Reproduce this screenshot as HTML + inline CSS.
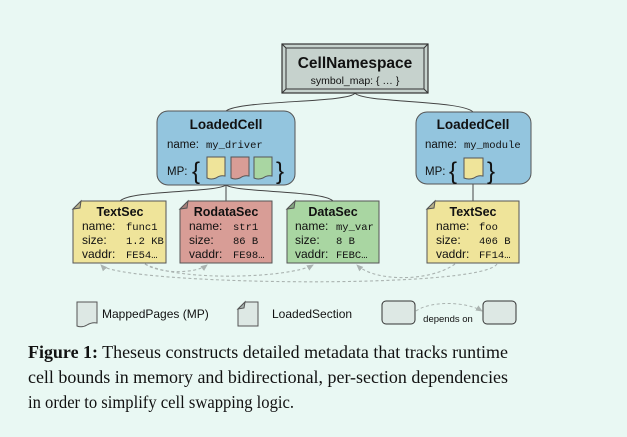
<!DOCTYPE html>
<html><head><meta charset="utf-8"><style>
html,body{margin:0;padding:0;background:#e9f8f3;}
svg{display:block}
.s{font-family:"Liberation Sans",sans-serif;fill:#111}
.m{font-family:"Liberation Mono",monospace;fill:#111}
</style></head><body>
<svg width="627" height="437" viewBox="0 0 627 437" xmlns="http://www.w3.org/2000/svg">
<defs>
<marker id="ah" markerWidth="8" markerHeight="8" refX="6" refY="4" orient="auto" markerUnits="userSpaceOnUse">
<path d="M0,1 L7,4 L0,7 Z" fill="#aab3b0"/></marker>
</defs>
<rect width="627" height="437" fill="#e9f8f3"/>
<g fill="none" stroke="#444" stroke-width="1">
<path d="M355,93 C350,103 240,100 226,111"/>
<path d="M355,93 C362,103 462,100 473,112"/>
<path d="M226,185 C215,193 130,190 120,201"/>
<path d="M226,185 L226,201"/>
<path d="M226,185 C237,193 322,190 333,201"/>
<path d="M473,184 L473,201"/>
</g>
<rect x="282" y="44" width="146" height="49" fill="#c6d2cd" stroke="#333" stroke-width="1.2"/>
<rect x="286" y="48" width="138" height="41" fill="#c6d2cd" stroke="#333" stroke-width="1"/>
<path d="M282,44 L286,48 M428,44 L424,48 M282,93 L286,89 M428,93 L424,89" stroke="#333"/>
<text x="355" y="68" text-anchor="middle" class="s" font-size="15.5" font-weight="bold">CellNamespace</text>
<text x="355" y="84" text-anchor="middle" class="s" font-size="10.5">symbol_map: { … }</text>
<rect x="157" y="111" width="138" height="74" rx="11" fill="#93c5de" stroke="#555"/>
<text x="226" y="129" text-anchor="middle" class="s" font-size="13.5" font-weight="bold">LoadedCell</text>
<text x="167" y="148" class="s" font-size="11.5">name:</text>
<text x="206" y="148" class="m" font-size="10.5">my_driver</text>
<text x="167" y="175" class="s" font-size="11.5">MP:</text>
<text x="192" y="179" class="s" font-size="24">{</text>
<text x="276" y="179" class="s" font-size="24">}</text>
<path d="M207,157 H225 V176 Q220,175 216,178 Q211,180 207,178 Z" fill="#efe49a" stroke="#555"/>
<path d="M231,157 H249 V176 Q244,175 240,178 Q235,180 231,178 Z" fill="#d89d96" stroke="#555"/>
<path d="M254,157 H272 V176 Q267,175 263,178 Q258,180 254,178 Z" fill="#a9d6a2" stroke="#555"/>
<rect x="416" y="112" width="115" height="72" rx="11" fill="#93c5de" stroke="#555"/>
<text x="473" y="129" text-anchor="middle" class="s" font-size="13.5" font-weight="bold">LoadedCell</text>
<text x="425" y="148" class="s" font-size="11.5">name:</text>
<text x="464" y="148" class="m" font-size="10.5">my_module</text>
<text x="425" y="175" class="s" font-size="11.5">MP:</text>
<text x="449" y="179" class="s" font-size="24">{</text>
<text x="487" y="179" class="s" font-size="24">}</text>
<path d="M464,158 H483 V176 Q478,175 474,178 Q469,180 464,178 Z" fill="#efe49a" stroke="#555"/>
<g stroke="#555" stroke-width="1">
<path d="M81,201 H166 V263 H73 V209 Z" fill="#efe49a"/>
<path d="M81,201 L80,208 L73,209 Z" fill="#b9b28a"/>
<path d="M188,201 H272 V263 H180 V209 Z" fill="#d89d96"/>
<path d="M188,201 L187,208 L180,209 Z" fill="#a8807b"/>
<path d="M295,201 H379 V263 H287 V209 Z" fill="#a9d6a2"/>
<path d="M295,201 L294,208 L287,209 Z" fill="#85a882"/>
<path d="M435,201 H519 V263 H427 V209 Z" fill="#efe49a"/>
<path d="M435,201 L434,208 L427,209 Z" fill="#b9b28a"/>
</g>
<g font-size="12">
<text x="120" y="216" text-anchor="middle" class="s" font-weight="bold" font-size="12.5">TextSec</text>
<text x="82" y="230" class="s">name:</text><text x="126" y="230" class="m" font-size="10.5">func1</text>
<text x="82" y="244" class="s">size:</text><text x="126" y="244" class="m" font-size="10.5">1.2 KB</text>
<text x="82" y="258" class="s">vaddr:</text><text x="126" y="258" class="m" font-size="10.5">FE54…</text>

<text x="226" y="216" text-anchor="middle" class="s" font-weight="bold" font-size="12.5">RodataSec</text>
<text x="189" y="230" class="s">name:</text><text x="233" y="230" class="m" font-size="10.5">str1</text>
<text x="189" y="244" class="s">size:</text><text x="233" y="244" class="m" font-size="10.5">86 B</text>
<text x="189" y="258" class="s">vaddr:</text><text x="233" y="258" class="m" font-size="10.5">FE98…</text>

<text x="333" y="216" text-anchor="middle" class="s" font-weight="bold" font-size="12.5">DataSec</text>
<text x="295" y="230" class="s">name:</text><text x="336" y="230" class="m" font-size="10.5">my_var</text>
<text x="295" y="244" class="s">size:</text><text x="336" y="244" class="m" font-size="10.5">8 B</text>
<text x="295" y="258" class="s">vaddr:</text><text x="336" y="258" class="m" font-size="10.5">FEBC…</text>

<text x="473" y="216" text-anchor="middle" class="s" font-weight="bold" font-size="12.5">TextSec</text>
<text x="436" y="230" class="s">name:</text><text x="479" y="230" class="m" font-size="10.5">foo</text>
<text x="436" y="244" class="s">size:</text><text x="479" y="244" class="m" font-size="10.5">406 B</text>
<text x="436" y="258" class="s">vaddr:</text><text x="479" y="258" class="m" font-size="10.5">FF14…</text>
</g>
<g fill="none" stroke="#aab3b0" stroke-width="1.1" stroke-dasharray="3,2.5">
<path d="M145,264 C160,274 195,274 207,265" marker-end="url(#ah)"/>
<path d="M497,264 C480,290 120,285 101,265" marker-end="url(#ah)"/>
<path d="M145,264 C180,282 290,278 313,265" marker-end="url(#ah)"/>
<path d="M455,264 C430,282 375,282 357,265" marker-end="url(#ah)"/>
</g>
<path d="M77,302 H97 V323 Q92,322 87,325 Q82,328 77,326 Z" fill="#dde8e4" stroke="#555"/>
<text x="102" y="318" class="s" font-size="12" fill="#222">MappedPages (MP)</text>
<path d="M245,302 H258 V326 H238 V309 Z" fill="#dde8e4" stroke="#555"/>
<path d="M245,302 L244,308 L238,309 Z" fill="#aab5b1" stroke="#555"/>
<text x="272" y="318" class="s" font-size="12" fill="#222">LoadedSection</text>
<rect x="382" y="301" width="33" height="23" rx="4" fill="#dde8e4" stroke="#333"/>
<rect x="483" y="301" width="33" height="23" rx="4" fill="#dde8e4" stroke="#333"/>
<path d="M416,311 C430,301 465,301 482,311" fill="none" stroke="#aab3b0" stroke-dasharray="3,2.5" marker-end="url(#ah)"/>
<text x="448" y="322" text-anchor="middle" class="s" font-size="9.5" fill="#222">depends on</text>
<g font-family="'Liberation Serif',serif" font-size="17.5" fill="#111">
<text x="28" y="358" textLength="480" lengthAdjust="spacingAndGlyphs"><tspan font-weight="bold">Figure 1:</tspan> Theseus constructs detailed metadata that tracks runtime</text>
<text x="28" y="383" textLength="480" lengthAdjust="spacingAndGlyphs">cell bounds in memory and bidirectional, per-section dependencies</text>
<text x="28" y="408" textLength="266" lengthAdjust="spacingAndGlyphs">in order to simplify cell swapping logic.</text>
</g>
</svg>
</body></html>
